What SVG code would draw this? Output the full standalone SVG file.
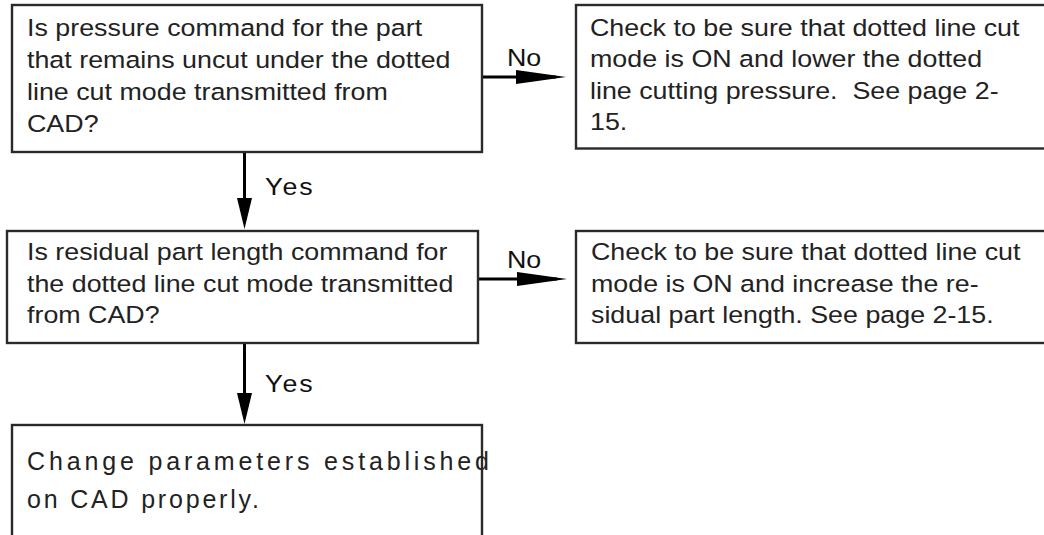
<svg xmlns="http://www.w3.org/2000/svg" width="1044" height="535" viewBox="0 0 1044 535">
<style>
.box{fill:#fff;stroke:#2a2a2a;stroke-width:2.4}
.t{font-family:"Liberation Sans",Arial,Helvetica,sans-serif;font-size:24.5px;fill:#222}
.lbl{font-family:"Liberation Sans",Arial,Helvetica,sans-serif;font-size:24.5px;fill:#111}
.yes{letter-spacing:1.8px}
.wide{font-family:"Liberation Sans",Arial,Helvetica,sans-serif;font-size:25px;fill:#222}
.conn{stroke:#000;stroke-width:3;fill:none}
</style>
<defs>
<marker id="arrH" markerUnits="userSpaceOnUse" markerWidth="50" markerHeight="14" viewBox="0 0 50 14" refX="40" refY="7" orient="auto">
<path d="M0,0 L50,7 L0,14 z" fill="#000"/>
</marker>
<marker id="arrV" markerUnits="userSpaceOnUse" markerWidth="31" markerHeight="15" viewBox="0 0 31 15" refX="21" refY="7.5" orient="auto">
<path d="M0,0 L31,7.5 L0,15 z" fill="#000"/>
</marker>
</defs>

<g id="connectors">
<line class="conn" x1="482" y1="77" x2="556" y2="77" marker-end="url(#arrH)"/>
<line class="conn" x1="478" y1="279" x2="557" y2="279" marker-end="url(#arrH)"/>
<line class="conn" x1="244.5" y1="152" x2="244.5" y2="219" marker-end="url(#arrV)"/>
<line class="conn" x1="244.5" y1="343" x2="244.5" y2="414" marker-end="url(#arrV)"/>
<text class="lbl" transform="translate(507,66) scale(1.095,1)">No</text>
<text class="lbl" transform="translate(507,268) scale(1.095,1)">No</text>
<text class="lbl yes" transform="translate(265,195) scale(1.095,1)">Yes</text>
<text class="lbl yes" transform="translate(265,392) scale(1.095,1)">Yes</text>
</g>

<g id="q1">
<rect class="box" x="12" y="5" width="470" height="147"/>
<text class="t" transform="translate(27,36) scale(1.095,1)">
<tspan x="0" y="0">Is pressure command for the part</tspan>
<tspan x="0" y="32">that remains uncut under the dotted</tspan>
<tspan x="0" y="64">line cut mode transmitted from</tspan>
<tspan x="0" y="96">CAD?</tspan>
</text>
</g>

<g id="a1">
<rect class="box" x="576" y="5" width="480" height="143.5"/>
<text class="t" transform="translate(590,36) scale(1.095,1)" xml:space="preserve"><tspan x="0" y="0">Check to be sure that dotted line cut</tspan><tspan x="0" y="31.5">mode is ON and lower the dotted</tspan><tspan x="0" y="63">line cutting pressure.  See page 2-</tspan><tspan x="0" y="94.5">15.</tspan></text>
</g>

<g id="q2">
<rect class="box" x="7" y="231" width="471" height="112"/>
<text class="t" transform="translate(27,260) scale(1.095,1)">
<tspan x="0" y="0">Is residual part length command for</tspan>
<tspan x="0" y="31.7">the dotted line cut mode transmitted</tspan>
<tspan x="0" y="63.4">from CAD?</tspan>
</text>
</g>

<g id="a2">
<rect class="box" x="576" y="231" width="480" height="112"/>
<text class="t" transform="translate(591,260) scale(1.095,1)">
<tspan x="0" y="0">Check to be sure that dotted line cut</tspan>
<tspan x="0" y="31.7">mode is ON and increase the re-</tspan>
<tspan x="0" y="63.4">sidual part length. See page 2-15.</tspan>
</text>
</g>

<g id="r1">
<rect class="box" x="12" y="425" width="470" height="130"/>
<text class="wide" x="27" y="469.5" textLength="462" lengthAdjust="spacing">Change parameters established</text>
<text class="wide" x="27" y="508" textLength="232" lengthAdjust="spacing">on CAD properly.</text>
</g>
</svg>
